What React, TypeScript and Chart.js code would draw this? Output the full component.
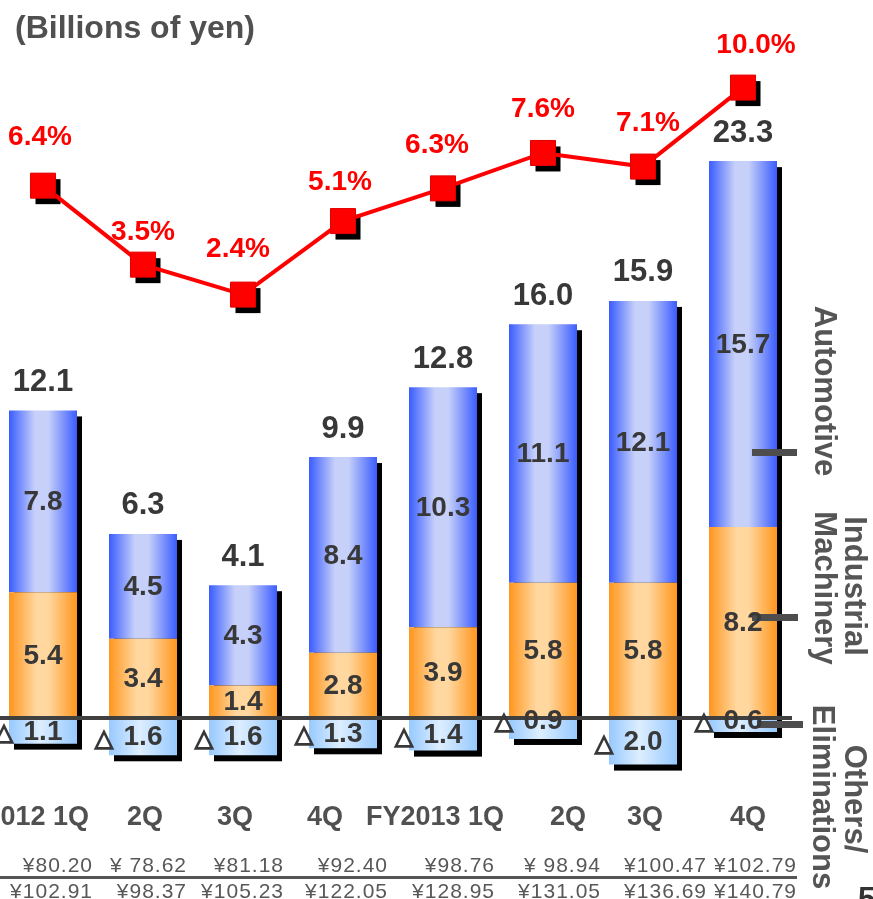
import { useEffect, useRef } from "react";
import { Chart, registerables } from "chart.js";

Chart.register(...registerables);

// ---------- data ----------
const categories = ["FY2012 1Q", "2Q", "3Q", "4Q", "FY2013 1Q", "2Q", "3Q", "4Q"];
const automotive = [7.8, 4.5, 4.3, 8.4, 10.3, 11.1, 12.1, 15.7];
const industrial = [5.4, 3.4, 1.4, 2.8, 3.9, 5.8, 5.8, 8.2];
const others = [-1.1, -1.6, -1.6, -1.3, -1.4, -0.9, -2.0, -0.6];
const totals = [12.1, 6.3, 4.1, 9.9, 12.8, 16.0, 15.9, 23.3];
const margins = [6.4, 3.5, 2.4, 5.1, 6.3, 7.6, 7.1, 10.0];
const usdRates = ["¥80.20", "¥ 78.62", "¥81.18", "¥92.40", "¥98.76", "¥ 98.94", "¥100.47", "¥102.79"];
const eurRates = ["¥102.91", "¥98.37", "¥105.23", "¥122.05", "¥128.95", "¥131.05", "¥136.69", "¥140.79"];
const unitLabel = "(Billions of yen)";
const segmentNames = [["Automotive"], ["Industrial", "Machinery"], ["Others/", "Eliminations"]];

// ---------- layout / style ----------
const OFFSET = 57; // canvas is shifted left so the first category is cropped like the slide
const CW = 930;
const CH = 899;
const BAR_PCT = 0.68;
const FONT = '"Liberation Sans", Arial, sans-serif';
const DARK = "#383838";
const GRAY = "#505050";

const blueStops: [number, string][] = [[0, "#3a5cff"], [0.38, "#c6d0f9"], [0.58, "#c6d0f9"], [1, "#3a5cff"]];
const orangeStops: [number, string][] = [[0, "#ff961e"], [0.4, "#ffd79f"], [0.58, "#ffd79f"], [1, "#ff961e"]];
const lightStops: [number, string][] = [[0, "#97c9ff"], [0.45, "#ddeeff"], [1, "#97c9ff"]];

const qNudge = [-23, 2, -8, -18, -8, 25, 2, 5];
const yenRight = [50, 44, 41, 45, 52, 58, 64, 54];
const pctDx = [-3, 0, -5, -3, -6, 0, 5, 13];
const pctDy = [48, 32, 45, 39, 43, 44, 43, 42];

function grad(stops: [number, string][]) {
  return (c: any) => {
    const chart = c.chart;
    const xs = chart.scales && chart.scales.x;
    if (!xs || c.dataIndex === undefined) return stops[1][1];
    const cx = xs.getPixelForValue(c.dataIndex);
    const half = (xs.width / categories.length) * BAR_PCT / 2;
    if (!Number.isFinite(cx) || !Number.isFinite(half) || half <= 0) return stops[1][1];
    const g = chart.ctx.createLinearGradient(cx - half, 0, cx + half, 0);
    stops.forEach(([o, col]) => g.addColorStop(o, col));
    return g;
  };
}

const P = (x: number) => x + OFFSET;

const deco = {
  id: "deco",
  beforeDatasetsDraw(chart: any) {
    const ctx = chart.ctx;
    ctx.save();
    ctx.fillStyle = "#000";
    const metas = [0, 1, 2].map((i) => chart.getDatasetMeta(i));
    for (let i = 0; i < categories.length; i++) {
      let top = Infinity, bottom = -Infinity, left = 0, w = 0;
      metas.forEach((m: any) => {
        const el = m.data[i];
        top = Math.min(top, el.y, el.base);
        bottom = Math.max(bottom, el.y, el.base);
        left = el.x - el.width / 2;
        w = el.width;
      });
      ctx.fillRect(left + 5, top + 6, w, bottom - top);
    }
    ctx.restore();
  },
  beforeDatasetDraw(chart: any, args: any) {
    if (args.index !== 3) return;
    const ctx = chart.ctx;
    const meta = chart.getDatasetMeta(3);
    ctx.save();
    ctx.fillStyle = "#000";
    meta.data.forEach((p: any) => ctx.fillRect(p.x - 12.5 + 5, p.y - 12.5 + 6, 25, 25));
    ctx.restore();
  },
  afterDatasetsDraw(chart: any) {
    const ctx = chart.ctx;
    const ys = chart.scales.y;
    const y0 = ys.getPixelForValue(0);
    ctx.save();

    // zero line
    ctx.strokeStyle = "#404040";
    ctx.lineWidth = 4;
    ctx.beginPath();
    ctx.moveTo(P(0) - 5, y0);
    ctx.lineTo(P(792), y0);
    ctx.stroke();

    // segment tick marks on the right
    ctx.fillStyle = "#4d4d4d";
    ctx.fillRect(P(752), 449, 45, 7);
    ctx.fillRect(P(752), 614, 46, 7);
    ctx.fillRect(P(757), 721, 46, 7);

    // separator line between rate rows
    ctx.strokeStyle = "#555";
    ctx.lineWidth = 3;
    ctx.beginPath();
    ctx.moveTo(P(0) - 5, 877.5);
    ctx.lineTo(P(797), 877.5);
    ctx.stroke();

    const mInd = chart.getDatasetMeta(0);
    const mAuto = chart.getDatasetMeta(1);
    const mOth = chart.getDatasetMeta(2);
    const mLine = chart.getDatasetMeta(3);

    ctx.textAlign = "center";
    ctx.textBaseline = "middle";
    ctx.fillStyle = DARK;

    // segment labels
    ctx.font = `bold 28px ${FONT}`;
    [[mInd, industrial], [mAuto, automotive]].forEach(([m, vals]: any) => {
      m.data.forEach((el: any, i: number) => {
        const cy = (el.y + el.base) / 2;
        ctx.fillText(vals[i].toFixed(1), el.x, cy + 1);
      });
    });

    // others labels with triangle marker
    mOth.data.forEach((el: any, i: number) => {
      const h = Math.abs(el.y - el.base);
      const cy = h < 24 ? el.base + 2 : (el.y + el.base) / 2;
      ctx.font = `bold 28px ${FONT}`;
      ctx.fillStyle = DARK;
      ctx.textAlign = "center";
      ctx.fillText(Math.abs(others[i]).toFixed(1), el.x, cy + 1);
      ctx.font = `bold 24px "DejaVu Sans", sans-serif`;
      ctx.strokeStyle = DARK;
      ctx.lineWidth = 1.4;
      ctx.fillText("△", el.x - el.width / 2 - 5, cy + 3);
      ctx.strokeText("△", el.x - el.width / 2 - 5, cy + 3);
    });

    // totals
    ctx.font = `bold 31px ${FONT}`;
    mAuto.data.forEach((el: any, i: number) => {
      ctx.fillText(totals[i].toFixed(1), el.x, el.y - 28);
    });

    // margin labels
    ctx.fillStyle = "#ff0000";
    ctx.font = `bold 28px ${FONT}`;
    mLine.data.forEach((p: any, i: number) => {
      ctx.fillText(margins[i].toFixed(1) + "%", p.x + pctDx[i], p.y - pctDy[i]);
    });

    // category labels
    const xs = chart.scales.x;
    ctx.fillStyle = GRAY;
    ctx.textBaseline = "alphabetic";
    ctx.font = `bold 27px ${FONT}`;
    categories.forEach((c, i) => {
      ctx.fillText(c, xs.getPixelForValue(i) + qNudge[i], 825);
    });

    // exchange rates
    ctx.font = `21px ${FONT}`;
    ctx.fillStyle = "#585858";
    ctx.textAlign = "right";
    (ctx as any).letterSpacing = "1px";
    categories.forEach((_, i) => {
      const rx = xs.getPixelForValue(i) + yenRight[i];
      ctx.fillText(usdRates[i], rx, 872);
      ctx.fillText(eurRates[i], rx, 898);
    });
    (ctx as any).letterSpacing = "0px";

    // unit title
    ctx.textAlign = "left";
    ctx.fillStyle = GRAY;
    ctx.font = `bold 32px ${FONT}`;
    ctx.fillText(unitLabel, P(15), 38);

    // rotated segment names
    ctx.font = `bold 31px ${FONT}`;
    ctx.fillStyle = "#555";
    const rot = (text: string, bx: number, cy: number) => {
      ctx.save();
      ctx.translate(P(bx), cy);
      ctx.rotate(Math.PI / 2);
      ctx.textAlign = "center";
      ctx.textBaseline = "alphabetic";
      ctx.fillText(text, 0, 0);
      ctx.restore();
    };
    rot(segmentNames[0][0], 815, 391);
    rot(segmentNames[1][0], 845, 586);
    rot(segmentNames[1][1], 815, 588);
    rot(segmentNames[2][0], 845, 799);
    rot(segmentNames[2][1], 813, 797);

    // page number (cropped)
    ctx.fillStyle = "#333";
    ctx.textAlign = "left";
    ctx.font = `bold 31px ${FONT}`;
    ctx.fillText("5", P(858), 909);

    ctx.restore();
  },
};

export default function App() {
  const ref = useRef<HTMLCanvasElement>(null);
  useEffect(() => {
    const barCommon = {
      stack: "s",
      yAxisID: "y",
      order: 1,
      barPercentage: BAR_PCT,
      categoryPercentage: 1,
      borderWidth: 0,
    };
    const chart = new Chart(ref.current as HTMLCanvasElement, {
      type: "bar",
      data: {
        labels: categories,
        datasets: [
          { ...barCommon, label: "Industrial Machinery", data: industrial, backgroundColor: grad(orangeStops) } as any,
          { ...barCommon, label: "Automotive", data: automotive, backgroundColor: grad(blueStops) } as any,
          { ...barCommon, label: "Others/Eliminations", data: others, backgroundColor: grad(lightStops) } as any,
          {
            type: "line",
            label: "Operating margin",
            data: margins,
            yAxisID: "y2",
            order: 0,
            borderColor: "#ff0000",
            borderWidth: 4,
            tension: 0,
            pointStyle: "rect",
            pointRadius: 17.7,
            pointBackgroundColor: "#ff0000",
            pointBorderColor: "#e00000",
            pointBorderWidth: 1,
            clip: false,
          } as any,
        ],
      },
      options: {
        responsive: false,
        animation: false,
        devicePixelRatio: 1,
        events: [],
        layout: { padding: { left: 50, right: 80, top: 60, bottom: 119 } },
        plugins: {
          legend: { display: false },
          tooltip: { enabled: false },
          title: { display: false },
        },
        scales: {
          x: { display: false, stacked: true, offset: true, grid: { display: false } },
          y: { display: false, stacked: true, min: -2.661, max: 28.24 },
          y2: { display: false, min: -15.419, max: 11.013, position: "right" },
        },
      } as any,
      plugins: [deco],
    });
    return () => chart.destroy();
  }, []);

  return (
    <div
      style={{
        position: "fixed",
        left: 0,
        top: 0,
        width: 873,
        height: 899,
        overflow: "hidden",
        background: "#ffffff",
      }}
    >
      <canvas
        ref={ref}
        width={CW}
        height={CH}
        style={{ position: "absolute", left: -OFFSET, top: 0, width: CW, height: CH }}
      />
    </div>
  );
}
